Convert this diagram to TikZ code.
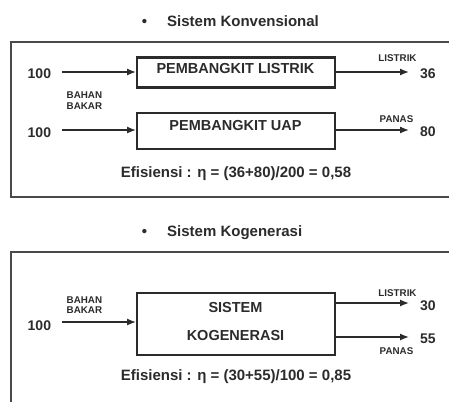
\documentclass[tikz,border=0pt]{standalone}
\usepackage{fontspec}
\setmainfont{Liberation Sans}
\usetikzlibrary{arrows.meta}
\definecolor{ink}{HTML}{2B2B2B}
\definecolor{frame}{HTML}{4A4A4A}
\begin{document}
\begin{tikzpicture}[x=1pt,y=-1pt,
  every node/.style={text=ink,font=\bfseries,inner sep=0pt},
  blk/.style={draw=ink,line width=2.2pt,minimum width=198pt,anchor=north west},
  flow/.style={draw=ink,line width=1.3pt,-{Latex[length=9pt,width=7pt]}},
  small/.style={font=\bfseries\fontsize{9.8}{10.5}\selectfont,anchor=base},
  num/.style={font=\bfseries\fontsize{14}{14}\selectfont,anchor=base west},
  boxtxt/.style={font=\bfseries\fontsize{14.5}{15}\selectfont,anchor=base},
  eff/.style={font=\bfseries\fontsize{15}{15}\selectfont,anchor=base},
  ttl/.style={font=\bfseries\fontsize{15}{15}\selectfont,anchor=base west},
  frm/.style={draw=frame,line width=1.4pt}]
\useasboundingbox (0,0) rectangle (449,401);
% ---- Top: conventional ----
\node[ttl,anchor=base] (d1) at (144.5,27) {\textbullet};
\node[ttl] (t1) at (167,27) {Sistem Konvensional};
\draw[frm] (460,42) -- (11,42) -- (11,197) -- (460,197);
\node[blk,minimum height=30pt] (b1) at (136,56.5) {};
\node[blk,minimum height=36pt] (b2) at (136,112) {};
\node[boxtxt] (b1t) at (235.5,74) {PEMBANGKIT LISTRIK};
\node[boxtxt] (b2t) at (235.5,130) {PEMBANGKIT UAP};
\node[num] (i1) at (27.5,79) {100};
\node[num] (i2) at (27.5,137) {100};
\coordinate (a1) at (62,72);
\coordinate (a2) at (62,130);
\draw[flow] (a1) -- (a1 -| b1.west);
\draw[flow] (a2) -- (a2 -| b2.west);
\node[small,anchor=base west] (bb1a) at (66.5,99) {BAHAN};
\node[small,anchor=base west] (bb1b) at (66.5,109.5) {BAKAR};
\coordinate (o1) at (409,72);
\coordinate (o2) at (409,130);
\draw[flow] (o1 -| b1.east) -- (o1);
\draw[flow] (o2 -| b2.east) -- (o2);
\node[small] (l1) at (397.5,62) {LISTRIK};
\node[small] (p1) at (396.5,122) {PANAS};
\node[num] (n36) at (420,79) {36};
\node[num] (n80) at (420,136.5) {80};
\node[eff] (e1) at (236,177) {Efisiensi : η = (36+80)/200 = 0,58};
% ---- Bottom: cogeneration ----
\node[ttl,anchor=base] (d2) at (144.5,236) {\textbullet};
\node[ttl] (t2) at (167,236) {Sistem Kogenerasi};
\draw[frm] (460,252) -- (11,252) -- (11,410);
\node[blk,minimum height=62pt] (b3) at (136,291.5) {};
\node[boxtxt] (s1) at (235.5,312) {SISTEM};
\node[boxtxt] (s2) at (235.5,340) {KOGENERASI};
\node[num] (i3) at (27.5,330) {100};
\coordinate (a3) at (62,322);
\draw[flow] (a3) -- (a3 -| b3.west);
\node[small,anchor=base west] (bb2a) at (66.5,303) {BAHAN};
\node[small,anchor=base west] (bb2b) at (66.5,313.5) {BAKAR};
\coordinate (o3) at (409,303);
\coordinate (o4) at (409,337);
\draw[flow] (o3 -| b3.east) -- (o3);
\draw[flow] (o4 -| b3.east) -- (o4);
\node[small] (l2) at (397.5,296) {LISTRIK};
\node[small] (p2) at (396.5,354.5) {PANAS};
\node[num] (n30) at (420,310) {30};
\node[num] (n55) at (420,343) {55};
\node[eff] (e2) at (236,380) {Efisiensi : η = (30+55)/100 = 0,85};
\end{tikzpicture}
\end{document}
